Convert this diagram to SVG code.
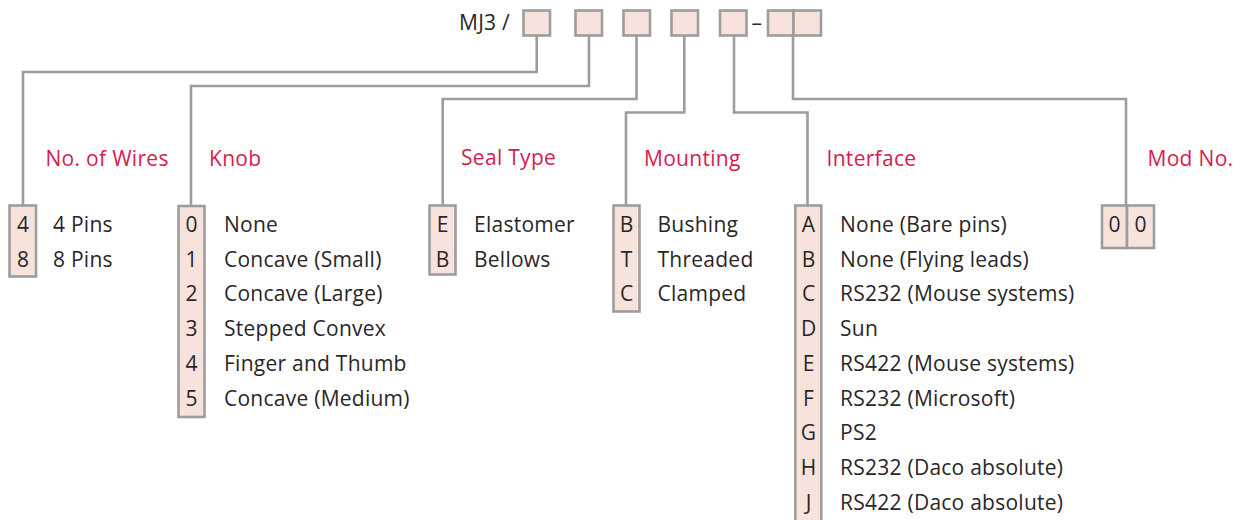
<svg xmlns="http://www.w3.org/2000/svg" width="1244" height="520" viewBox="0 0 1244 520">
<style>
.bx{fill:#f7e2dc;stroke:#9d9d9d;stroke-width:2.6}
.cn{fill:none;stroke:#9d9d9d;stroke-width:2.6}
.t{font-family:"Open Sans","Noto Sans",sans-serif;font-size:21px;letter-spacing:0.25px;fill:#2a2627}
.c{text-anchor:middle;letter-spacing:0}
.h{font-family:"Open Sans","Noto Sans",sans-serif;font-size:21px;letter-spacing:0.3px;fill:#d51c4f}
</style>
<rect width="1244" height="520" fill="#fff"/>
<g id="code">
<text class="t" x="459" y="30">MJ3 /</text>
<rect class="bx" x="523.5" y="10.5" width="26.5" height="25"/>
<rect class="bx" x="575.5" y="10.5" width="26.5" height="25"/>
<rect class="bx" x="623.5" y="10.5" width="26.5" height="25"/>
<rect class="bx" x="671.5" y="10.5" width="26.5" height="25"/>
<rect class="bx" x="720" y="10.5" width="26.5" height="25"/>
<text class="t" x="751.5" y="30">–</text>
<rect class="bx" x="768" y="10.5" width="25.5" height="25"/>
<rect class="bx" x="793.5" y="10.5" width="27.5" height="25"/>
</g>
<g id="connectors">
<polyline class="cn" points="536.7,36 536.7,72 23,72 23,205"/>
<polyline class="cn" points="589,36 589,86 191,86 191,206"/>
<polyline class="cn" points="636.5,36 636.5,99 442.7,99 442.7,205"/>
<polyline class="cn" points="684.3,36 684.3,112.5 626,112.5 626,205"/>
<polyline class="cn" points="734,36 734,112.5 807.5,112.5 807.5,205"/>
<polyline class="cn" points="793,36 793,99 1126,99 1126,205"/>
</g>
<g id="wires">
<text class="h" x="45.5" y="166">No. of Wires</text>
<rect class="bx" x="9.5" y="205.5" width="26.5" height="71"/>
<text class="t c" x="23" y="232">4</text><text class="t" x="53" y="232">4 Pins</text>
<text class="t c" x="23" y="266.7">8</text><text class="t" x="53" y="266.7">8 Pins</text>
</g>
<g id="knob">
<text class="h" x="209" y="166">Knob</text>
<rect class="bx" x="178.5" y="206" width="26" height="211"/>
<text class="t c" x="191.5" y="232">0</text><text class="t" x="224" y="232">None</text>
<text class="t c" x="191.5" y="266.7">1</text><text class="t" x="224" y="266.7">Concave (Small)</text>
<text class="t c" x="191.5" y="301.4">2</text><text class="t" x="224" y="301.4">Concave (Large)</text>
<text class="t c" x="191.5" y="336.1">3</text><text class="t" x="224" y="336.1">Stepped Convex</text>
<text class="t c" x="191.5" y="370.8">4</text><text class="t" x="224" y="370.8">Finger and Thumb</text>
<text class="t c" x="191.5" y="405.5">5</text><text class="t" x="224" y="405.5">Concave (Medium)</text>
</g>
<g id="seal">
<text class="h" x="461" y="165">Seal Type</text>
<rect class="bx" x="429.5" y="205.5" width="26" height="69"/>
<text class="t c" x="442.5" y="232">E</text><text class="t" x="474" y="232">Elastomer</text>
<text class="t c" x="442.5" y="266.7">B</text><text class="t" x="474" y="266.7">Bellows</text>
</g>
<g id="mounting">
<text class="h" x="644" y="166">Mounting</text>
<rect class="bx" x="613.5" y="205.5" width="26" height="106"/>
<text class="t c" x="626.5" y="232">B</text><text class="t" x="657.5" y="232">Bushing</text>
<text class="t c" x="626.5" y="266.7">T</text><text class="t" x="657.5" y="266.7">Threaded</text>
<text class="t c" x="626.5" y="301.4">C</text><text class="t" x="657.5" y="301.4">Clamped</text>
</g>
<g id="interface">
<text class="h" x="826.5" y="166">Interface</text>
<rect class="bx" x="795.3" y="205.5" width="26" height="330"/>
<text class="t c" x="808.5" y="232">A</text><text class="t" x="840" y="232">None (Bare pins)</text>
<text class="t c" x="808.5" y="266.7">B</text><text class="t" x="840" y="266.7">None (Flying leads)</text>
<text class="t c" x="808.5" y="301.4">C</text><text class="t" x="840" y="301.4">RS232 (Mouse systems)</text>
<text class="t c" x="808.5" y="336.1">D</text><text class="t" x="840" y="336.1">Sun</text>
<text class="t c" x="808.5" y="370.8">E</text><text class="t" x="840" y="370.8">RS422 (Mouse systems)</text>
<text class="t c" x="808.5" y="405.5">F</text><text class="t" x="840" y="405.5">RS232 (Microsoft)</text>
<text class="t c" x="808.5" y="440.2">G</text><text class="t" x="840" y="440.2">PS2</text>
<text class="t c" x="808.5" y="474.9">H</text><text class="t" x="840" y="474.9">RS232 (Daco absolute)</text>
<text class="t c" x="808.5" y="509.6">J</text><text class="t" x="840" y="509.6">RS422 (Daco absolute)</text>
</g>
<g id="mod">
<text class="h" x="1147.5" y="166">Mod No.</text>
<rect class="bx" x="1102" y="205.5" width="25" height="42.5"/>
<rect class="bx" x="1127" y="205.5" width="27" height="42.5"/>
<text class="t c" x="1114.5" y="232">0</text>
<text class="t c" x="1140.5" y="232">0</text>
</g>
</svg>
